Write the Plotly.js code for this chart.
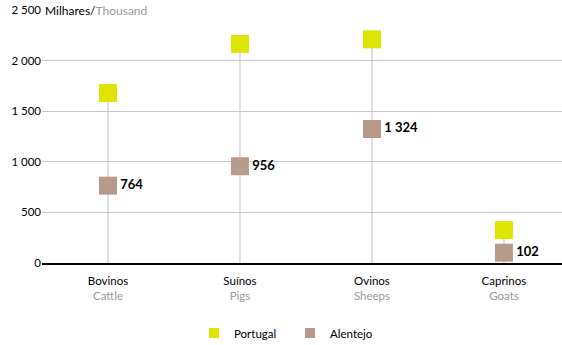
<!DOCTYPE html>
<html>
<head>
<meta charset="utf-8">
<script src="https://cdn.plot.ly/plotly-3.0.1.min.js"></script>
<style>html,body{margin:0;padding:0;background:#fff;}#chart{width:562px;height:345px;}</style>
</head>
<body>
<div id="chart"></div>
<script>
const categoriesPt = ["Bovinos", "Suínos", "Ovinos", "Caprinos"];
const categoriesEn = ["Cattle", "Pigs", "Sheeps", "Goats"];
const portugal = [1680, 2165, 2210, 325];
const alentejo = [764, 956, 1324, 102];
const alentejoLabels = ["764", "956", "1 324", "102"];
const yTickVals = [0, 500, 1000, 1500, 2000, 2500];
const colorPortugal = "#dfe500";
const colorAlentejo = "#b89a8b";

const idx = categoriesPt.map((_, i) => i);
const stemX = [], stemY = [];
idx.forEach(i => { stemX.push(i, i, null); stemY.push(0, portugal[i], null); });

const font = "Lato, 'Open Sans', sans-serif";

const traces = [
  {x: stemX, y: stemY, mode: "lines", line: {color: "#c2c2c8", width: 1}, showlegend: false, hoverinfo: "skip"},
  {x: idx, y: portugal, name: "Portugal", mode: "markers", type: "scatter", showlegend: false,
   marker: {symbol: "square", size: 18, color: colorPortugal}},
  {x: idx, y: alentejo, name: "Alentejo", mode: "markers+text", type: "scatter", showlegend: false,
   text: alentejoLabels, textposition: "middle right",
   textfont: {family: font, size: 13, color: "#000", weight: "bold"},
   marker: {symbol: "square", size: 18, color: colorAlentejo}},
  {x: [null], y: [null], name: "Portugal", mode: "markers", marker: {symbol: "square", size: 10, color: colorPortugal}},
  {x: [null], y: [null], name: "Alentejo", mode: "markers", marker: {symbol: "square", size: 10, color: colorAlentejo}}
];

const layout = {
  width: 562, height: 345,
  margin: {l: 42, r: 0, t: 10, b: 82},
  paper_bgcolor: "#fff", plot_bgcolor: "#fff",
  separators: ", ",
  font: {family: font, size: 11, color: "#000"},
  showlegend: true,
  legend: {orientation: "h", xref: "container", x: 194 / 562, xanchor: "left",
           yref: "container", y: 12 / 345, yanchor: "middle",
           font: {family: font, size: 11.5, color: "#000"},
           entrywidth: 51, entrywidthmode: "pixels", tracegroupgap: 0},
  xaxis: {
    range: [-0.5, 3.44], tickmode: "array", tickvals: idx,
    ticktext: idx.map(i => categoriesPt[i] + "<br><span style='color:#9a9a9a'>" + categoriesEn[i] + "</span>"),
    showgrid: false, zeroline: false, showline: true, linecolor: "#000", linewidth: 2,
    ticks: "", ticklen: 0, ticklabelstandoff: 6,
    tickfont: {family: font, size: 11.5, color: "#000"}, fixedrange: true
  },
  yaxis: {
    range: [0, 2500], tickmode: "array", tickvals: yTickVals, tickformat: ",d",
    showgrid: true, gridcolor: "#c8c8cc", gridwidth: 1, zeroline: false, showline: false,
    ticks: "", tickfont: {family: font, size: 11.5, color: "#000"}, fixedrange: true
  },
  annotations: [{
    xref: "paper", yref: "y", x: 0, y: 2500, xanchor: "left", yanchor: "middle",
    text: "Milhares/<span style='color:#9a9a9a'>Thousand</span>", showarrow: false,
    bgcolor: "#fff", borderpad: 1, xshift: 1,
    font: {family: font, size: 12, color: "#000"}
  }]
};

Plotly.newPlot("chart", traces, layout, {displayModeBar: false, staticPlot: true});
</script>
</body>
</html>
